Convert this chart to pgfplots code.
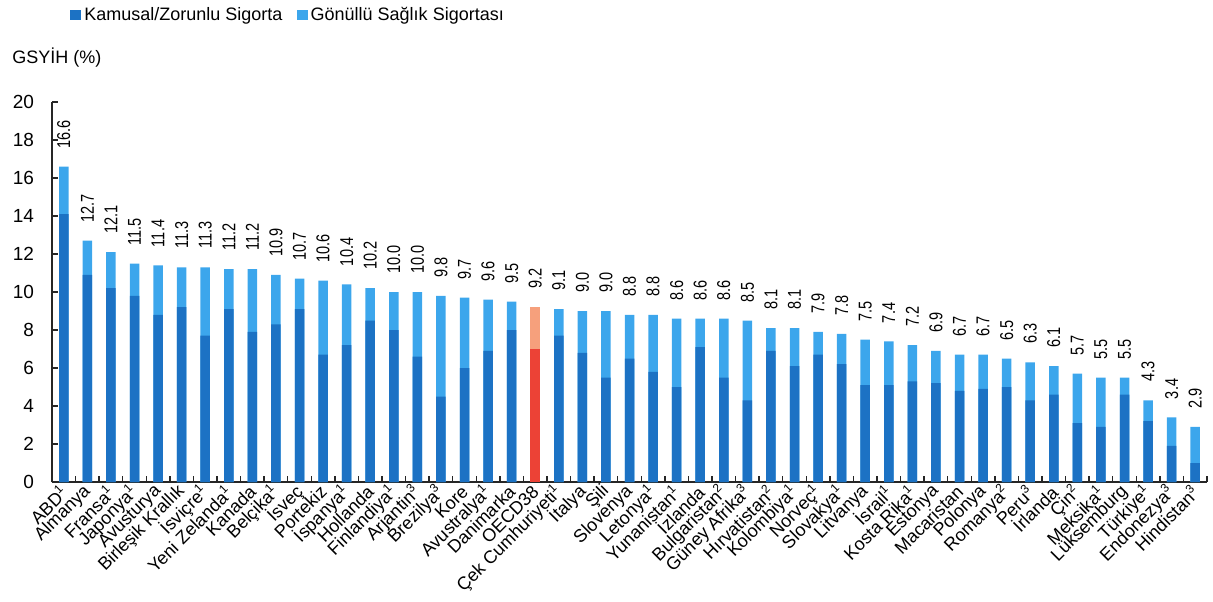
\documentclass[border=0pt]{standalone}
\usepackage{fontspec}
\setmainfont{Liberation Sans}
\newfontfamily\narrowsans[FakeStretch=0.78]{Liberation Sans}
\usepackage{pgfplots}
\usepackage{pgfplotstable}
\pgfplotsset{compat=1.18}

\definecolor{pubblue}{RGB}{28,114,196}
\definecolor{volblue}{RGB}{60,166,236}
\definecolor{oecdred}{RGB}{236,66,54}
\definecolor{oecdsalmon}{RGB}{246,160,124}

% Health spending as share of GDP: total and public/compulsory part
\pgfplotstableread{
idx total public
0  16.6 14.1
1  12.7 10.9
2  12.1 10.2
3  11.5 9.8
4  11.4 8.8
5  11.3 9.2
6  11.3 7.7
7  11.2 9.1
8  11.2 7.9
9  10.9 8.3
10 10.7 9.1
11 10.6 6.7
12 10.4 7.2
13 10.2 8.5
14 10.0 8.0
15 10.0 6.6
16 9.8  4.5
17 9.7  6.0
18 9.6  6.9
19 9.5  8.0
21 9.1  7.7
22 9.0  6.8
23 9.0  5.5
24 8.8  6.5
25 8.8  5.8
26 8.6  5.0
27 8.6  7.1
28 8.6  5.5
29 8.5  4.3
30 8.1  6.9
31 8.1  6.1
32 7.9  6.7
33 7.8  6.2
34 7.5  5.1
35 7.4  5.1
36 7.2  5.3
37 6.9  5.2
38 6.7  4.8
39 6.7  4.9
40 6.5  5.0
41 6.3  4.3
42 6.1  4.6
43 5.7  3.1
44 5.5  2.9
45 5.5  4.6
46 4.3  3.2
47 3.4  1.9
48 2.9  1.0
}\spending

% OECD average, highlighted
\pgfplotstableread{
idx total public
20 9.2 7.0
}\oecd

\begin{document}
\begin{tikzpicture}[font=\fontsize{9}{11}\selectfont]
\begin{axis}[
  at={(0,0)}, anchor=south west,
  scale only axis, width=577.5pt, height=190pt,
  xmin=-0.5, xmax=48.5, ymin=0, ymax=20,
  axis x line=bottom, axis y line=left,
  axis line style={-, line width=0.7pt, black!85},
  clip=false,
  /pgf/number format/assume math mode=true,
  tick align=inside,
  major tick length=3pt, minor tick length=3pt,
  ytick={0,2,...,20},
  ytick style={line width=0.7pt, black!85},
  yticklabel style={xshift=-5.5pt, font=\fontsize{9.5}{11}\selectfont},
  xtick={0,...,48},
  major x tick style={draw=none},
  minor xtick={-0.5,0.5,...,48.5},
  minor x tick style={line width=0.7pt, black!85},
  xticklabel style={yshift=-2.5pt, xshift=1pt, rotate=45, anchor=east, inner sep=1pt, font=\fontsize{9}{11}\selectfont},
  xticklabels={ABD\textsuperscript{1}, Almanya, Fransa\textsuperscript{1}, Japonya\textsuperscript{1}, Avusturya, Birleşik Krallık, İsviçre\textsuperscript{1}, Yeni Zelanda\textsuperscript{1}, Kanada, Belçika\textsuperscript{1}, İsveç, Portekiz, İspanya\textsuperscript{1}, Hollanda, Finlandiya\textsuperscript{1}, Arjantin\textsuperscript{3}, Brezilya\textsuperscript{3}, Kore, Avustralya\textsuperscript{1}, Danimarka, OECD38, Çek Cumhuriyeti\textsuperscript{1}, İtalya, Şili, Slovenya, Letonya\textsuperscript{1}, Yunanistan\textsuperscript{1}, İzlanda, Bulgaristan\textsuperscript{2}, Güney Afrika\textsuperscript{3}, Hırvatistan\textsuperscript{2}, Kolombiya\textsuperscript{1}, Norveç\textsuperscript{1}, Slovakya\textsuperscript{1}, Litvanya, İsrail\textsuperscript{1}, Kosta Rika\textsuperscript{1}, Estonya, Macaristan, Polonya, Romanya\textsuperscript{2}, Peru\textsuperscript{3}, İrlanda, Çin\textsuperscript{2}, Meksika\textsuperscript{1}, Lüksemburg, Türkiye\textsuperscript{1}, Endonezya\textsuperscript{3}, Hindistan\textsuperscript{3}},
  legend columns=2,
  legend image code/.code={\fill[#1] (0pt,-2.7pt) rectangle (5.4pt,2.7pt);},
  legend style={at={(rel axis cs:0.0156,1.229)}, anchor=west, draw=none, fill=none,
    inner sep=0pt, font=\fontsize{9}{11}\selectfont,
    nodes={inner sep=1.6pt},
    /tikz/every even column/.append style={column sep=5.5pt}},
  value/.style={
    nodes near coords={\pgfmathprintnumber[fixed, fixed zerofill, precision=1]{\pgfplotspointmeta}},
    nodes near coords align=horizontal,
    every node near coord/.append style={rotate=90, anchor=west, inner xsep=9pt,
      font=\narrowsans\fontsize{9.3}{11}\selectfont, text=black}},
]
% total height (voluntary part shows above the public part)
\addplot[ybar, bar width=4.75pt, bar shift=0pt, fill=volblue, draw=none, value, forget plot]
  table[x=idx, y=total] {\spending};
\addplot[ybar, bar width=4.75pt, bar shift=0pt, fill=pubblue, draw=none, forget plot]
  table[x=idx, y=public] {\spending};
\addplot[ybar, bar width=4.75pt, bar shift=0pt, fill=oecdsalmon, draw=none, value, forget plot]
  table[x=idx, y=total] {\oecd};
\addplot[ybar, bar width=4.75pt, bar shift=0pt, fill=oecdred, draw=none, forget plot]
  table[x=idx, y=public] {\oecd};

\addlegendimage{fill=pubblue, draw=none}
\addlegendentry{Kamusal/Zorunlu Sigorta}
\addlegendimage{fill=volblue, draw=none}
\addlegendentry{Gönüllü Sağlık Sigortası}

\node[anchor=west, inner sep=0pt] at (rel axis cs:-0.0346,1.116) {GSYİH (\%)};
\end{axis}
\pgfresetboundingbox
\useasboundingbox (-26pt,-59.5pt) rectangle (580.5pt,241pt);
\end{tikzpicture}
\end{document}
